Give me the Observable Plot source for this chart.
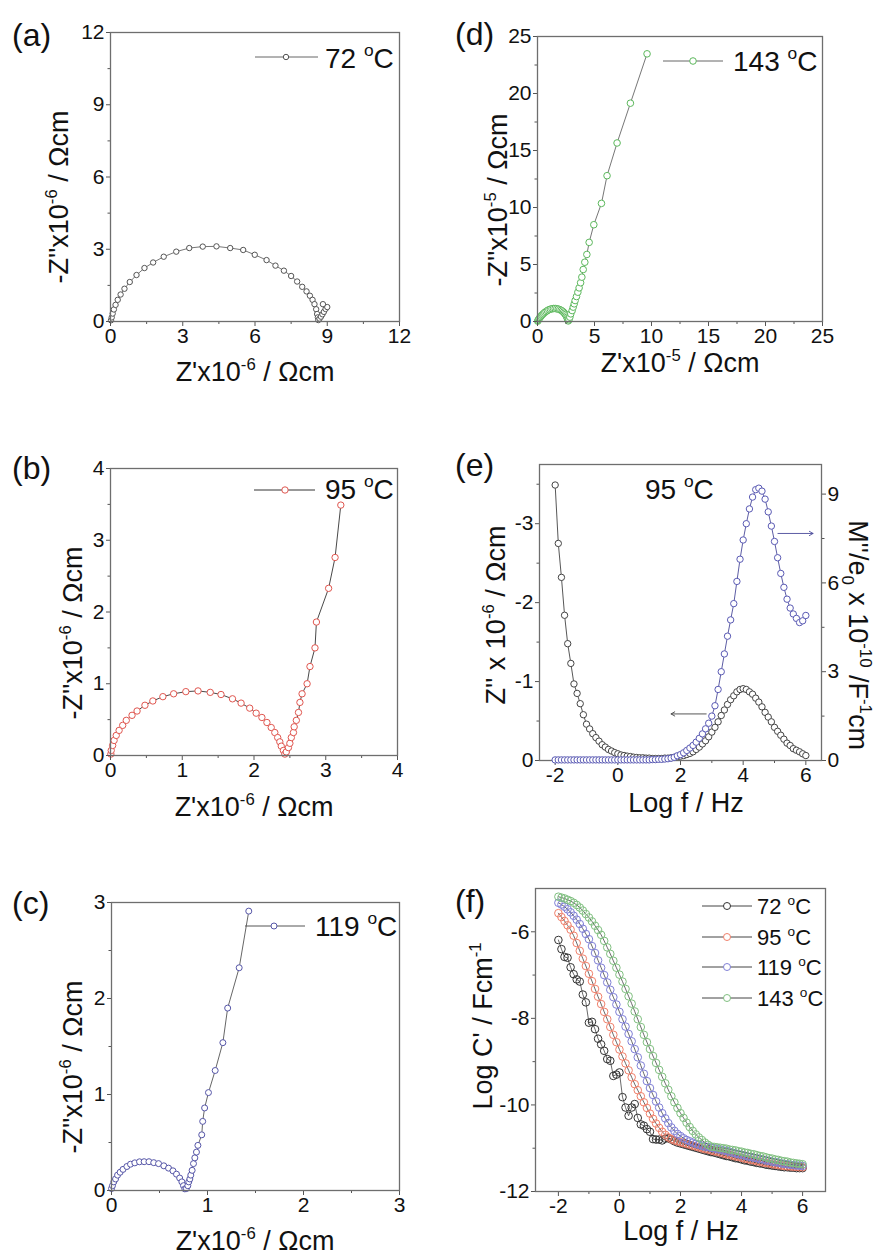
<!DOCTYPE html>
<html><head><meta charset="utf-8">
<script src="https://cdn.jsdelivr.net/npm/d3@7"></script>
<script src="https://cdn.jsdelivr.net/npm/@observablehq/plot@0.6"></script>
<style>
body{margin:0;background:#fff;}
#page{position:relative;width:878px;height:1257px;overflow:hidden;background:#fff;}
.clip{position:absolute;overflow:visible;}
</style></head>
<body><div id="page"></div>
<script>
// ---------------- data ----------------
const nyq72 = [[0.02,0.05],[0.05,0.17],[0.09,0.33],[0.14,0.50],[0.21,0.69],[0.30,0.90],[0.42,1.12],[0.58,1.36],[0.80,1.64],[1.08,1.93],[1.41,2.22],[1.77,2.45],[2.21,2.69],[2.73,2.90],[3.27,3.05],[3.83,3.11],[4.40,3.12],[4.97,3.05],[5.51,2.97],[5.99,2.77],[6.48,2.55],[6.85,2.32],[7.20,2.11],[7.50,1.89],[7.75,1.66],[7.96,1.44],[8.14,1.25],[8.28,1.07],[8.39,0.90],[8.47,0.72],[8.54,0.51],[8.58,0.31],[8.61,0.17],[8.63,0.06],[8.68,0.12],[8.74,0.20],[8.80,0.30],[8.86,0.40],[8.93,0.52],[9.00,0.60],[8.82,0.72]];
const nyq95 = [[0.005,0.02],[0.01,0.07],[0.03,0.14],[0.05,0.21],[0.08,0.28],[0.12,0.35],[0.17,0.42],[0.22,0.49],[0.30,0.56],[0.37,0.62],[0.48,0.70],[0.59,0.76],[0.73,0.82],[0.88,0.86],[1.05,0.89],[1.22,0.90],[1.39,0.88],[1.54,0.85],[1.70,0.79],[1.82,0.73],[1.94,0.66],[2.03,0.59],[2.11,0.53],[2.18,0.46],[2.24,0.39],[2.29,0.32],[2.33,0.25],[2.36,0.19],[2.38,0.13],[2.41,0.07],[2.43,0.02],[2.45,0.05],[2.48,0.11],[2.50,0.17],[2.52,0.25],[2.55,0.32],[2.56,0.40],[2.59,0.49],[2.62,0.60],[2.64,0.74],[2.67,0.86],[2.74,1.00],[2.78,1.24],[2.85,1.50],[2.87,1.86],[3.04,2.33],[3.13,2.76],[3.21,3.49]];
const nyq119 = [[0.00,0.02],[0.01,0.05],[0.024,0.09],[0.042,0.12],[0.063,0.16],[0.09,0.19],[0.12,0.22],[0.16,0.25],[0.198,0.274],[0.243,0.288],[0.292,0.299],[0.34,0.30],[0.39,0.30],[0.44,0.29],[0.49,0.28],[0.545,0.257],[0.594,0.233],[0.64,0.205],[0.677,0.17],[0.71,0.13],[0.733,0.09],[0.75,0.05],[0.764,0.017],[0.78,0.02],[0.795,0.05],[0.805,0.09],[0.816,0.12],[0.826,0.16],[0.84,0.21],[0.854,0.28],[0.868,0.34],[0.885,0.40],[0.90,0.47],[0.94,0.58],[0.95,0.72],[0.97,0.86],[1.01,1.02],[1.08,1.25],[1.16,1.54],[1.21,1.90],[1.33,2.32],[1.43,2.91]];
const nyq143 = [[0.02,0.03],[0.05,0.10],[0.10,0.18],[0.15,0.26],[0.22,0.36],[0.29,0.45],[0.37,0.54],[0.45,0.62],[0.54,0.71],[0.64,0.80],[0.75,0.88],[0.87,0.96],[1.00,1.03],[1.13,1.08],[1.27,1.12],[1.41,1.14],[1.55,1.14],[1.69,1.12],[1.82,1.09],[1.95,1.04],[2.07,0.98],[2.18,0.91],[2.28,0.82],[2.37,0.72],[2.45,0.61],[2.52,0.49],[2.58,0.37],[2.63,0.25],[2.67,0.14],[2.70,0.05],[2.76,0.15],[2.84,0.38],[2.92,0.67],[3.04,0.96],[3.13,1.26],[3.22,1.55],[3.30,1.84],[3.42,2.19],[3.54,2.57],[3.65,2.95],[3.78,3.40],[3.89,3.89],[4.01,4.56],[4.15,5.20],[4.33,5.88],[4.53,6.94],[4.94,8.49],[5.61,10.36],[6.10,12.79],[6.98,15.66],[8.15,19.15],[9.61,23.48]];

const logF = [-2,-1.9,-1.8,-1.7,-1.6,-1.5,-1.4,-1.3,-1.2,-1.1,-1,-0.9,-0.8,-0.7,-0.6,-0.5,-0.4,-0.3,-0.2,-0.1,0,0.1,0.2,0.3,0.4,0.5,0.6,0.7,0.8,0.9,1,1.1,1.2,1.3,1.4,1.5,1.6,1.7,1.8,1.9,2,2.1,2.2,2.3,2.4,2.5,2.6,2.7,2.8,2.9,3,3.1,3.2,3.3,3.4,3.5,3.6,3.7,3.8,3.9,4,4.1,4.2,4.3,4.4,4.5,4.6,4.7,4.8,4.9,5,5.1,5.2,5.3,5.4,5.5,5.6,5.7,5.8,5.9,6];

const zIm95 = [-3.49,-2.75,-2.32,-1.84,-1.48,-1.23,-0.97,-0.85,-0.72,-0.58,
 -0.46,-0.40,-0.34,-0.29,-0.245,-0.20,-0.17,-0.14,-0.12,-0.10,
 -0.085,-0.07,-0.063,-0.055,-0.05,-0.042,-0.038,-0.034,-0.034,-0.03,
 -0.03,-0.025,-0.025,-0.025,-0.025,-0.03,-0.03,-0.034,-0.04,-0.046,
 -0.055,-0.063,-0.076,-0.09,-0.11,-0.14,-0.17,-0.21,-0.25,-0.30,
 -0.36,-0.42,-0.49,-0.57,-0.64,-0.71,-0.77,-0.82,-0.87,-0.90,
 -0.91,-0.90,-0.87,-0.84,-0.79,-0.74,-0.68,-0.61,-0.55,-0.49,
 -0.42,-0.37,-0.32,-0.27,-0.22,-0.19,-0.15,-0.13,-0.11,-0.085,
 -0.063];
const mIm95 = [0.02,0.02,0.02,0.02,0.02,0.02,0.02,0.02,0.02,0.02,
 0.02,0.02,0.02,0.02,0.02,0.02,0.02,0.02,0.02,0.02,
 0.02,0.02,0.02,0.02,0.02,0.02,0.02,0.02,0.02,0.02,
 0.02,0.03,0.03,0.04,0.04,0.05,0.06,0.08,0.11,0.16,
 0.20,0.26,0.34,0.42,0.51,0.62,0.75,0.90,1.07,1.26,
 1.50,1.85,2.40,3.00,3.60,4.20,4.75,5.30,6.05,6.80,
 7.45,8.00,8.50,8.90,9.15,9.20,9.10,8.83,8.40,7.92,
 7.40,6.85,6.32,5.85,5.45,5.15,4.95,4.80,4.66,4.72,
 4.90];

const logC72 = [-6.19,-6.40,-6.58,-6.60,-6.82,-6.98,-7.10,-7.15,-7.45,-7.63,
 -8.10,-8.08,-8.25,-8.47,-8.60,-8.75,-8.94,-8.98,-9.33,-9.30,
 -9.25,-9.82,-10.06,-10.25,-10.06,-9.98,-10.30,-10.45,-10.48,-10.56,
 -10.62,-10.79,-10.80,-10.80,-10.82,-10.78,-10.77,-10.80,-10.84,-10.87,
 -10.89,-10.91,-10.93,-10.95,-10.97,-10.99,-11.01,-11.03,-11.05,-11.07,
 -11.09,-11.10,-11.12,-11.14,-11.16,-11.18,-11.19,-11.21,-11.23,-11.24,
 -11.26,-11.28,-11.29,-11.31,-11.32,-11.34,-11.35,-11.36,-11.38,-11.39,
 -11.40,-11.41,-11.42,-11.43,-11.44,-11.44,-11.45,-11.45,-11.46,-11.46,
 -11.46];
const logC95 = [-5.57,-5.66,-5.75,-5.85,-5.95,-6.09,-6.26,-6.44,-6.62,-6.79,
 -6.97,-7.14,-7.32,-7.50,-7.67,-7.85,-8.02,-8.20,-8.38,-8.55,
 -8.72,-8.88,-9.04,-9.20,-9.36,-9.52,-9.66,-9.80,-9.94,-10.07,
 -10.20,-10.32,-10.43,-10.53,-10.62,-10.69,-10.75,-10.79,-10.82,-10.84,
 -10.86,-10.88,-10.90,-10.92,-10.94,-10.96,-10.98,-11.00,-11.02,-11.03,
 -11.05,-11.07,-11.08,-11.10,-11.12,-11.14,-11.15,-11.17,-11.19,-11.20,
 -11.22,-11.24,-11.25,-11.27,-11.28,-11.30,-11.31,-11.33,-11.34,-11.35,
 -11.37,-11.38,-11.39,-11.40,-11.41,-11.42,-11.42,-11.43,-11.43,-11.44,
 -11.44];
const logC119 = [-5.33,-5.37,-5.42,-5.48,-5.55,-5.63,-5.72,-5.82,-5.93,-6.05,
 -6.17,-6.33,-6.49,-6.66,-6.83,-7.00,-7.17,-7.34,-7.51,-7.68,
 -7.85,-8.02,-8.19,-8.36,-8.53,-8.71,-8.90,-9.09,-9.28,-9.45,
 -9.61,-9.77,-9.92,-10.06,-10.19,-10.31,-10.42,-10.52,-10.60,-10.67,
 -10.72,-10.77,-10.81,-10.84,-10.87,-10.90,-10.92,-10.94,-10.96,-10.97,
 -10.99,-11.00,-11.02,-11.03,-11.05,-11.06,-11.08,-11.10,-11.12,-11.14,
 -11.15,-11.17,-11.19,-11.20,-11.22,-11.23,-11.25,-11.26,-11.28,-11.29,
 -11.31,-11.32,-11.33,-11.35,-11.36,-11.37,-11.38,-11.39,-11.40,-11.40,
 -11.41];
const logC143 = [-5.19,-5.21,-5.23,-5.26,-5.29,-5.33,-5.38,-5.44,-5.51,-5.59,
 -5.67,-5.76,-5.86,-5.96,-6.07,-6.21,-6.36,-6.51,-6.67,-6.83,
 -6.99,-7.15,-7.32,-7.49,-7.66,-7.84,-8.02,-8.20,-8.38,-8.55,
 -8.71,-8.87,-9.03,-9.19,-9.35,-9.50,-9.65,-9.80,-9.94,-10.07,
 -10.19,-10.30,-10.41,-10.51,-10.60,-10.68,-10.75,-10.81,-10.87,-10.92,
 -10.96,-10.97,-10.98,-10.99,-11.00,-11.01,-11.03,-11.04,-11.05,-11.07,
 -11.08,-11.10,-11.11,-11.13,-11.14,-11.16,-11.18,-11.19,-11.21,-11.23,
 -11.24,-11.26,-11.27,-11.29,-11.30,-11.31,-11.33,-11.34,-11.35,-11.36,
 -11.37];

const tempLabels = ["72","95","119","143"];
// annotation arrows in panel (e), data units
const arrowZ = [{x1:2.82, x2:1.70, y:-0.59}];
const arrowM = [{x1:5.11, x2:6.23, y:7.67}];

// ticks
const ticksA=[0,3,6,9,12], minorA=[1.5,4.5,7.5,10.5];
const ticksB=[0,1,2,3,4], minorB=[0.5,1.5,2.5,3.5];
const ticksC=[0,1,2,3], minorC=[0.5,1.5,2.5];
const ticksD=[0,5,10,15,20,25], minorD=[2.5,7.5,12.5,17.5,22.5];
const ticksLogF=[-2,0,2,4,6], minorLogF=[-1,1,3,5];
const ticksZe=[0,-1,-2,-3], minorZe=[-0.5,-1.5,-2.5,-3.5];
const ticksMe=[0,3,6,9], minorMe=[1.5,4.5,7.5];
const ticksCf=[-12,-10,-8,-6], minorCf=[-11,-9,-7];

// ---------------- helpers ----------------
const FONT = '"Liberation Sans", Arial, Helvetica, sans-serif';
const page = document.getElementById('page');
const fmt = d => String(d);
const FRAME = {stroke:'#6e6e6e', strokeWidth:1.3};

function panel(x,y,w,h){
  const d=document.createElement('div'); d.className='clip';
  Object.assign(d.style,{left:x+'px',top:y+'px',width:w+'px',height:h+'px'});
  page.appendChild(d);
  return {div:d, off:[x,y], w, h};
}
function addPlot(p, frame, opts){
  const [l,t,r,b]=frame; const mL=70,mR=60,mT=15,mB=45;
  const el = Plot.plot({width:r-l+mL+mR, height:b-t+mT+mB, marginLeft:mL, marginRight:mR, marginTop:mT, marginBottom:mB,
    style:{background:'transparent', fontSize:'21px', fontFamily:FONT, color:'#1a1a1a', maxWidth:'none', overflow:'visible'}, ...opts});
  Object.assign(el.style,{position:'absolute', left:(l-p.off[0]-mL)+'px', top:(t-p.off[1]-mT)+'px'});
  p.div.appendChild(el);
}
function xAxes(t,m){return [
  Plot.axisX({ticks:t, tickSize:5, tickPadding:2, tickFormat:fmt, label:null, stroke:'#555', fill:'#111'}),
  Plot.axisX({ticks:m, tickSize:3, tickFormat:()=>'', label:null, stroke:'#555'})];}
function yAxes(t,m,anchor='left'){return [
  Plot.axisY({anchor, ticks:t, tickSize:4, tickPadding:2, tickFormat:fmt, label:null, stroke:'#555', fill:'#111'}),
  Plot.axisY({anchor, ticks:m, tickSize:2.5, tickFormat:()=>'', label:null, stroke:'#555'})];}
function overlay(p){
  const s=d3.create('svg').attr('width',p.w).attr('height',p.h)
    .style('position','absolute').style('left','0px').style('top','0px').style('overflow','visible');
  p.div.appendChild(s.node());
  return s.append('g').attr('transform',`translate(${-p.off[0]},${-p.off[1]})`);
}
function rich(g,x,y,parts,size,{anchor='start',rotate=0,fill='#111'}={}){
  const t=g.append('text').attr('font-size',size).attr('font-family',FONT).attr('fill',fill)
    .attr('text-anchor',anchor).attr('transform',`translate(${x},${y}) rotate(${rotate})`);
  let shift=0;
  for(const p of parts){
    const [s,kind]=Array.isArray(p)?p:[p,null];
    const target = kind==='sup' ? -0.42*size : kind==='sub' ? 0.25*size : 0;
    const ts=t.append('tspan').attr('dy',target-shift).text(s);
    if(kind) ts.attr('font-size',size*0.62);
    shift=target;
  }
}
function legendItem(g,x1,x2,xm,y,tx,ty,label,size,mk,ln,r){
  g.append('line').attr('x1',x1).attr('x2',x2).attr('y1',y).attr('y2',y).attr('stroke',ln).attr('stroke-width',1);
  g.append('circle').attr('cx',xm).attr('cy',y).attr('r',r).attr('fill','white').attr('stroke',mk).attr('stroke-width',1);
  rich(g,tx,ty,[label+' ',['o','sup'],'C'],size);
}
function nyquist(p, frame, dom, ticks, minor, data, mk, ln, r){
  addPlot(p, frame, {x:{domain:dom}, y:{domain:dom}, marks:[
    Plot.line(data,{x:d=>d[0], y:d=>d[1], stroke:ln, strokeWidth:0.9}),
    Plot.dot(data,{x:d=>d[0], y:d=>d[1], r, stroke:mk, fill:'white', strokeWidth:1}),
    ...xAxes(ticks,minor), ...yAxes(ticks,minor), Plot.frame(FRAME)]});
}

// ---------------- panel (a) ----------------
{
  const p=panel(0,0,440,390);
  nyquist(p,[110,32,399,321],[0,12],ticksA,minorA,nyq72,'#555','#666',2.7);
  const g=overlay(p);
  rich(g,12,46,['(a)'],32);
  rich(g,68,197,["-Z''x10",['-6','sup'],' / Ωcm'],27,{anchor:'middle',rotate:-90});
  rich(g,255,381,["Z'x10",['-6','sup'],' / Ωcm'],27,{anchor:'middle'});
  legendItem(g,255,318,286,57,325,68,tempLabels[0],28,'#555','#666',2.7);
}
// ---------------- panel (d) ----------------
{
  const p=panel(440,0,438,390);
  nyquist(p,[537,36,822,321],[0,25],ticksD,minorD,nyq143,'#5cb85c','#666',3.3);
  const g=overlay(p);
  rich(g,455,45,['(d)'],32);
  rich(g,507,200,["-Z''x10",['-5','sup'],' / Ωcm'],27,{anchor:'middle',rotate:-90});
  rich(g,680,372,["Z'x10",['-5','sup'],' / Ωcm'],27,{anchor:'middle'});
  legendItem(g,663,723,693,61,733,71,tempLabels[3],28,'#5cb85c','#666',3.3);
}
// ---------------- panel (b) ----------------
{
  const p=panel(0,390,440,440);
  nyquist(p,[110,468,397,755],[0,4],ticksB,minorB,nyq95,'#e0564f','#333',3.2);
  const g=overlay(p);
  rich(g,12,479,['(b)'],32);
  rich(g,82,633,["-Z''x10",['-6','sup'],' / Ωcm'],27,{anchor:'middle',rotate:-90});
  rich(g,254,816,["Z'x10",['-6','sup'],' / Ωcm'],27,{anchor:'middle'});
  legendItem(g,254,315,285,490,325,499,tempLabels[1],28,'#e0564f','#333',3.2);
}
// ---------------- panel (e) ----------------
{
  const p=panel(440,390,438,440);
  const frame=[539,464,821,760];
  addPlot(p, frame, {x:{domain:[-2.5,6.5]}, y:{domain:[0,-3.75]}, marks:[
    Plot.line(zIm95,{x:(d,i)=>logF[i], y:d=>d, stroke:'#444', strokeWidth:0.9}),
    Plot.dot(zIm95,{x:(d,i)=>logF[i], y:d=>d, r:3.2, stroke:'#444', fill:'white', strokeWidth:1}),
    Plot.arrow(arrowZ,{x1:'x1', x2:'x2', y1:'y', y2:'y', stroke:'#444', strokeWidth:0.9, headLength:7}),
    ...xAxes(ticksLogF,minorLogF), ...yAxes(ticksZe,minorZe), Plot.frame(FRAME)]});
  addPlot(p, frame, {x:{domain:[-2.5,6.5], axis:null}, y:{domain:[0,10]}, marks:[
    Plot.line(mIm95,{x:(d,i)=>logF[i], y:d=>d, stroke:'#4a4a9a', strokeWidth:0.9}),
    Plot.dot(mIm95,{x:(d,i)=>logF[i], y:d=>d, r:3.2, stroke:'#5a5ab4', fill:'white', strokeWidth:1}),
    Plot.arrow(arrowM,{x1:'x1', x2:'x2', y1:'y', y2:'y', stroke:'#4a4a9a', strokeWidth:0.9, headLength:7}),
    ...yAxes(ticksMe,minorMe,'right')]});
  const g=overlay(p);
  rich(g,455,476,['(e)'],32);
  rich(g,505,615,["Z'' x 10",['-6','sup'],' / Ωcm'],27,{anchor:'middle',rotate:-90});
  rich(g,849,635,["M''/e",['0','sub'],' x 10',['-10','sup'],' /F',['-1','sup'],'cm'],27,{anchor:'middle',rotate:90});
  rich(g,686,812,['Log f / Hz'],27,{anchor:'middle'});
  rich(g,645,499,[tempLabels[1]+' ',['o','sup'],'C'],28);
}
// ---------------- panel (c) ----------------
{
  const p=panel(0,830,440,427);
  nyquist(p,[111,902,399,1190],[0,3],ticksC,minorC,nyq119,'#5656a8','#555',3);
  const g=overlay(p);
  rich(g,12,914,['(c)'],32);
  rich(g,82,1067,["-Z''x10",['-6','sup'],' / Ωcm'],27,{anchor:'middle',rotate:-90});
  rich(g,255,1250,["Z'x10",['-6','sup'],' / Ωcm'],27,{anchor:'middle'});
  legendItem(g,245,305,274,926,315,936,tempLabels[2],28,'#5656a8','#555',3);
}
// ---------------- panel (f) ----------------
{
  const p=panel(440,830,438,427);
  const series=[logC72,logC95,logC119,logC143];
  const colors=['#333','#f07f6a','#7f7fd6','#7fbf7f'];
  const marks=[];
  series.forEach((s,k)=>{
    marks.push(Plot.line(s,{x:(d,i)=>logF[i], y:d=>d, stroke:'#444', strokeWidth:0.8}));
    marks.push(Plot.dot(s,{x:(d,i)=>logF[i], y:d=>d, r:3.8, stroke:colors[k], fill:'none', strokeWidth:1}));
  });
  addPlot(p,[535,888,825,1191],{x:{domain:[-2.75,6.75]}, y:{domain:[-12,-5]}, marks:[
    ...marks, ...xAxes(ticksLogF,minorLogF), ...yAxes(ticksCf,minorCf), Plot.frame(FRAME)]});
  const g=overlay(p);
  rich(g,455,912,['(f)'],32);
  rich(g,492,1026,["Log C' / Fcm",['-1','sup']],27,{anchor:'middle',rotate:-90});
  rich(g,681,1240,['Log f / Hz'],27,{anchor:'middle'});
  [906,937,967,998].forEach((y,k)=>legendItem(g,702,752,727,y,757,y+8,tempLabels[k],22,colors[k],'#444',3.5));
}
</script></body></html>
